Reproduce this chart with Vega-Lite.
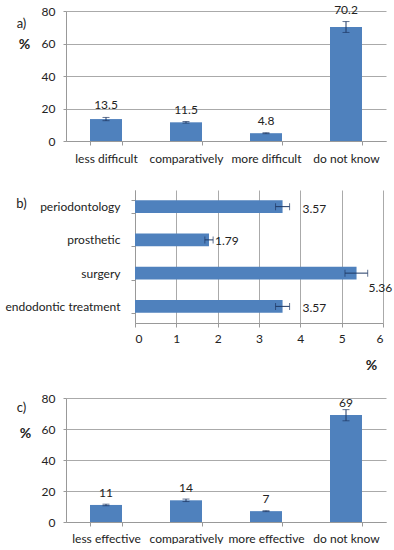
{
  "$schema": "https://vega.github.io/schema/vega-lite/v6.json",
  "background": "white",
  "padding": {"left": 5, "top": 3, "right": 5, "bottom": 0},
  "spacing": 20,
  "config": {
    "font": "Lato",
    "view": {"stroke": null},
    "axis": {
      "labelFont": "Lato", "labelFontSize": 12, "labelColor": "#222",
      "domainColor": "#999", "tickColor": "#999", "gridColor": "#aaa",
      "titleColor": "#222", "titleFont": "Lato"
    }
  },
  "datasets": {
    "a": [
      {"cat": "less difficult", "v": 13.5, "lo": 12.5, "hi": 14.5},
      {"cat": "comparatively", "v": 11.5, "lo": 11.0, "hi": 12.0},
      {"cat": "more difficult", "v": 4.8, "lo": 4.5, "hi": 5.1},
      {"cat": "do not know", "v": 70.2, "lo": 66.8, "hi": 73.5}
    ],
    "b": [
      {"cat": "periodontology", "v": 3.57, "lo": 3.40, "hi": 3.74},
      {"cat": "prosthetic", "v": 1.79, "lo": 1.69, "hi": 1.89},
      {"cat": "surgery", "v": 5.36, "lo": 5.08, "hi": 5.63},
      {"cat": "endodontic treatment", "v": 3.57, "lo": 3.40, "hi": 3.74}
    ],
    "c": [
      {"cat": "less effective", "v": 11, "lo": 10.5, "hi": 11.5},
      {"cat": "comparatively", "v": 14, "lo": 13.2, "hi": 14.8},
      {"cat": "more effective", "v": 7, "lo": 6.7, "hi": 7.3},
      {"cat": "do not know", "v": 69, "lo": 65.3, "hi": 72.5}
    ]
  },
  "vconcat": [
    {
      "data": {"name": "a"},
      "width": 320,
      "height": 130,
      "resolve": {"axis": {"y": "independent"}},
      "encoding": {
        "x": {
          "field": "cat", "type": "nominal", "sort": null, "title": null,
          "scale": {"paddingInner": 0.6, "paddingOuter": 0.3},
          "axis": {"labelAngle": 0, "tickBand": "extent", "tickSize": 4, "labelPadding": 8, "grid": false}
        }
      },
      "layer": [
        {
          "mark": {"type": "bar", "color": "#4F81BD"},
          "encoding": {
            "y": {
              "field": "v", "type": "quantitative",
              "scale": {"domain": [0, 80]},
              "axis": {"values": [0, 20, 40, 60, 80], "grid": true, "domain": true, "tickSize": 3, "labelPadding": 8,
                "title": "%", "titleAngle": 0, "titleFontWeight": "bold", "titleFontSize": 14, "titleX": -42, "titleY": 33, "titleAlign": "center", "titleBaseline": "middle"}
            }
          }
        },
        {
          "mark": {"type": "errorbar", "color": "#1F3864", "ticks": {"size": 7}},
          "encoding": {
            "y": {"field": "lo", "type": "quantitative",
              "axis": {"orient": "left", "labels": false, "ticks": false, "domain": false, "grid": false,
                "title": "a)", "titleAngle": 0, "titleFontWeight": "normal", "titleFontSize": 13, "titleX": -45, "titleY": 12, "titleAlign": "center", "titleBaseline": "middle"}},
            "y2": {"field": "hi"}
          }
        },
        {
          "mark": {"type": "text", "baseline": "bottom", "dy": -5, "fontSize": 12, "color": "#222"},
          "encoding": {
            "y": {"field": "hi", "type": "quantitative", "axis": null},
            "text": {"field": "v", "type": "quantitative", "format": ".1f"}
          }
        }
      ]
    },
    {
      "data": {"name": "b"},
      "width": 320,
      "height": 133,
      "resolve": {"axis": {"y": "independent"}},
      "layer": [
        {
          "mark": {"type": "bar", "color": "#4F81BD"},
          "encoding": {
            "y": {
              "field": "cat", "type": "nominal", "sort": null,
              "scale": {"paddingInner": 0.61, "paddingOuter": 0.305},
              "axis": {"title": null, "offset": -69, "tickBand": "extent", "tickSize": 4, "labelPadding": 11, "grid": false}
            },
            "x": {
              "field": "v", "type": "quantitative", "title": "%",
              "scale": {"domain": [0, 6], "range": [69, 317], "nice": false},
              "axis": {"values": [0, 1, 2, 3, 4, 5, 6], "grid": true, "tickSize": 4, "labelPadding": 6,
                "titleFontWeight": "bold", "titleFontSize": 14, "titleX": 305, "titleY": 42, "titleAlign": "center", "titleBaseline": "middle"}
            }
          }
        },
        {
          "mark": {"type": "errorbar", "color": "#1F3864", "ticks": {"size": 7}},
          "encoding": {
            "y": {"field": "cat", "type": "nominal", "sort": null,
              "axis": {"orient": "left", "labels": false, "ticks": false, "domain": false, "grid": false,
                "title": "b)", "titleAngle": 0, "titleFontWeight": "normal", "titleFontSize": 13, "titleX": -45, "titleY": 13, "titleAlign": "center", "titleBaseline": "middle"}},
            "x": {"field": "lo", "type": "quantitative", "title": "%"},
            "x2": {"field": "hi"}
          }
        },
        {
          "transform": [{"filter": {"field": "cat", "oneOf": ["periodontology", "endodontic treatment"]}}],
          "mark": {"type": "text", "align": "left", "baseline": "middle", "dx": 20, "dy": 2, "fontSize": 12, "color": "#222"},
          "encoding": {
            "y": {"field": "cat", "type": "nominal", "sort": null, "axis": null},
            "x": {"field": "v", "type": "quantitative", "title": "%"},
            "text": {"field": "v", "type": "quantitative", "format": ".2f"}
          }
        },
        {
          "transform": [{"filter": {"field": "cat", "equal": "prosthetic"}}],
          "mark": {"type": "text", "align": "left", "baseline": "middle", "dx": 6, "dy": 1, "fontSize": 12, "color": "#222"},
          "encoding": {
            "y": {"field": "cat", "type": "nominal", "sort": null, "axis": null},
            "x": {"field": "v", "type": "quantitative", "title": "%"},
            "text": {"field": "v", "type": "quantitative", "format": ".2f"}
          }
        },
        {
          "transform": [{"filter": {"field": "cat", "equal": "surgery"}}],
          "mark": {"type": "text", "align": "left", "baseline": "middle", "dx": 12, "dy": 15, "fontSize": 12, "color": "#222"},
          "encoding": {
            "y": {"field": "cat", "type": "nominal", "sort": null, "axis": null},
            "x": {"field": "v", "type": "quantitative", "title": "%"},
            "text": {"field": "v", "type": "quantitative", "format": ".2f"}
          }
        }
      ]
    },
    {
      "data": {"name": "c"},
      "width": 320,
      "height": 124,
      "resolve": {"axis": {"y": "independent"}},
      "encoding": {
        "x": {
          "field": "cat", "type": "nominal", "sort": null, "title": null,
          "scale": {"paddingInner": 0.6, "paddingOuter": 0.3},
          "axis": {"labelAngle": 0, "tickBand": "extent", "tickSize": 4, "labelPadding": 7, "grid": false}
        }
      },
      "layer": [
        {
          "mark": {"type": "bar", "color": "#4F81BD"},
          "encoding": {
            "y": {
              "field": "v", "type": "quantitative",
              "scale": {"domain": [0, 80]},
              "axis": {"values": [0, 20, 40, 60, 80], "grid": true, "domain": true, "tickSize": 3, "labelPadding": 8,
                "title": "%", "titleAngle": 0, "titleFontWeight": "bold", "titleFontSize": 14, "titleX": -41, "titleY": 35, "titleAlign": "center", "titleBaseline": "middle"}
            }
          }
        },
        {
          "mark": {"type": "errorbar", "color": "#1F3864", "ticks": {"size": 7}},
          "encoding": {
            "y": {"field": "lo", "type": "quantitative",
              "axis": {"orient": "left", "labels": false, "ticks": false, "domain": false, "grid": false,
                "title": "c)", "titleAngle": 0, "titleFontWeight": "normal", "titleFontSize": 13, "titleX": -45, "titleY": 9, "titleAlign": "center", "titleBaseline": "middle"}},
            "y2": {"field": "hi"}
          }
        },
        {
          "mark": {"type": "text", "baseline": "bottom", "dy": -5, "fontSize": 12, "color": "#222"},
          "encoding": {
            "y": {"field": "v", "type": "quantitative", "axis": null},
            "text": {"field": "v", "type": "quantitative", "format": "d"}
          }
        }
      ]
    }
  ]
}
